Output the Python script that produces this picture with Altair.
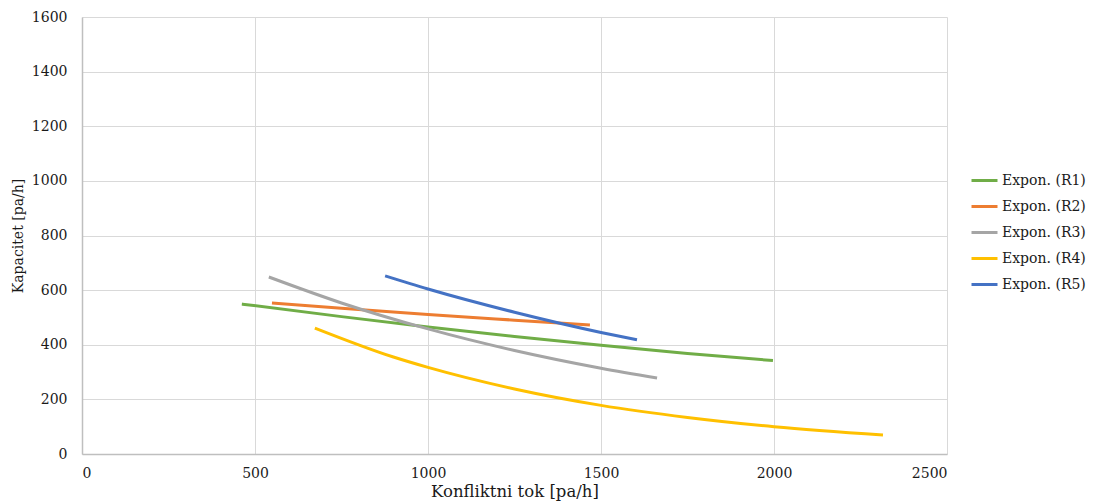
import altair as alt
import pandas as pd

series_names = ["Expon. (R1)", "Expon. (R2)", "Expon. (R3)", "Expon. (R4)", "Expon. (R5)"]
series_colors = ["#70ad47", "#ed7d31", "#a5a5a5", "#ffc000", "#4472c4"]

r1_x = [462, 750, 1000, 1250, 1500, 1750, 1997]
r1_y = [549, 503, 465, 430, 398, 368, 342]

r2_x = [549, 750, 1000, 1250, 1468]
r2_y = [553, 534, 511, 490, 472]

r3_x = [540, 750, 1000, 1250, 1500, 1662]
r3_y = [648, 553, 458, 379, 314, 278]

r4_x = [673, 900, 1000, 1250, 1500, 1750, 2000, 2315]
r4_y = [461, 355, 317, 238, 178, 134, 100, 70]

r5_x = [876, 1000, 1250, 1500, 1604]
r5_y = [652, 604, 519, 445, 418]

rows = []
for name, xs, ys in zip(series_names, [r1_x, r2_x, r3_x, r4_x, r5_x], [r1_y, r2_y, r3_y, r4_y, r5_y]):
    for xv, yv in zip(xs, ys):
        rows.append({"series": name, "x": xv, "y": yv})
df = pd.DataFrame(rows)

font = "DejaVu Serif"
ink = "#1a1a1a"

chart = alt.Chart(df).mark_line(strokeWidth=3, interpolate="monotone").encode(
    x=alt.X("x:Q", scale=alt.Scale(domain=[0, 2500], nice=False),
            axis=alt.Axis(values=[0, 500, 1000, 1500, 2000, 2500], format="d", title="Konfliktni tok [pa/h]",
                          labelPadding=12, titlePadding=3, labelFont=font, titleFont=font,
                          labelFontSize=14, titleFontSize=16.5)),
    y=alt.Y("y:Q", scale=alt.Scale(domain=[0, 1600], nice=False),
            axis=alt.Axis(values=[0, 200, 400, 600, 800, 1000, 1200, 1400, 1600], format="d", title="Kapacitet [pa/h]",
                          labelPadding=15, titlePadding=6, labelFont=font, titleFont=font,
                          labelFontSize=14, titleFontSize=14)),
    color=alt.Color("series:N", scale=alt.Scale(domain=series_names, range=series_colors),
                    legend=alt.Legend(title=None, orient="none", legendX=888, legendY=149,
                                      symbolType="stroke", symbolStrokeWidth=3, symbolSize=676,
                                      labelFont=font, labelFontSize=14, labelColor=ink,
                                      rowPadding=4, padding=0, labelOffset=3)),
    detail="series:N",
).properties(
    width=865, height=437,
    autosize=alt.AutoSizeParams(type="none"),
    padding={"left": 74, "top": 9, "right": 143, "bottom": 48},
).configure_axis(
    grid=True, gridColor="#d9d9d9", gridWidth=1,
    domainColor="#bfbfbf", domainWidth=1.5, ticks=False,
    labelColor=ink, titleFontWeight="normal", titleColor=ink,
).configure_view(stroke=None)

chart.save("out.html", embed_options={"renderer": "svg", "actions": False})
